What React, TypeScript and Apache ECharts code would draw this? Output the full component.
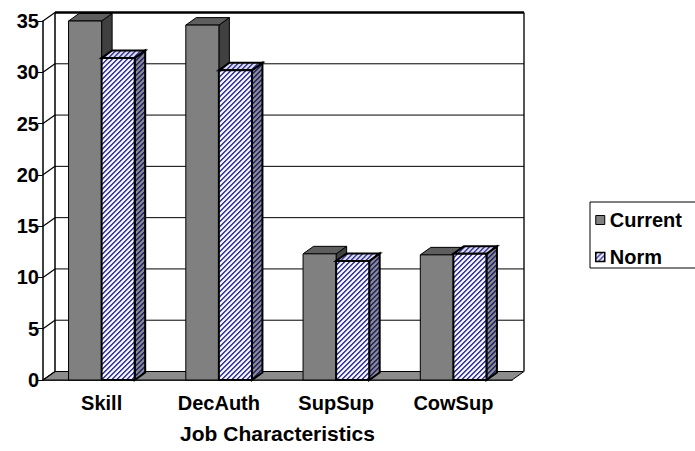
import React, { useEffect, useRef } from "react";
import * as echarts from "echarts";

// Job characteristic scores: current level against the norm
const categories = ["Skill", "DecAuth", "SupSup", "CowSup"];
const currentValues = [35.0, 34.6, 12.3, 12.2];
const normValues = [31.4, 30.2, 11.6, 12.3];
const yTicks = [0, 5, 10, 15, 20, 25, 30, 35];

// depth of the box (frame) and of each bar, in pixels
const WALL_DX = 12;
const WALL_DY = -8.5;
const BAR_DX = 10.5;
const BAR_DY = -7.5;
const BAR_FRACTION = 0.282;

const FONT = {
  fontFamily: "'Liberation Sans', Arial, sans-serif",
  fontWeight: "bold" as const,
  fontSize: 20,
  color: "#000",
};

type RGB = [number, number, number];

// Diagonal "/" hatch tile used for the Norm bars
function makeHatch(stripe: RGB, ground: RGB): HTMLCanvasElement {
  const size = 5;
  const weights = [1, 0.85, 0.15, 0, 0.15];
  const c = document.createElement("canvas");
  c.width = size;
  c.height = size;
  const ctx = c.getContext("2d")!;
  const img = ctx.createImageData(size, size);
  for (let y = 0; y < size; y++) {
    for (let x = 0; x < size; x++) {
      const t = weights[(x + y) % size];
      const i = (y * size + x) * 4;
      for (let k = 0; k < 3; k++) {
        img.data[i + k] = Math.round(stripe[k] * t + ground[k] * (1 - t));
      }
      img.data[i + 3] = 255;
    }
  }
  ctx.putImageData(img, 0, 0);
  return c;
}

export default function App() {
  const ref = useRef<HTMLDivElement>(null);

  useEffect(() => {
    if (!ref.current) return;
    const chart = echarts.init(ref.current, undefined, { renderer: "svg" });

    const hatchFront = { image: makeHatch([51, 51, 153], [255, 255, 255]), repeat: "repeat" as const };
    const hatchTop = { image: makeHatch([60, 60, 155], [225, 225, 235]), repeat: "repeat" as const };
    const hatchSide = { image: makeHatch([35, 35, 100], [140, 140, 150]), repeat: "repeat" as const };

    const makeBar = (which: "current" | "norm") => (params: any, api: any) => {
      const idx = api.value(0);
      const v = api.value(1);
      const top = api.coord([idx, v]);
      const base = api.coord([idx, 0]);
      const band = api.size([1, 0])[0];
      const w = band * BAR_FRACTION;
      const x0 = which === "current" ? top[0] - w : top[0];
      const yT = top[1];
      const yB = base[1];
      const isNorm = which === "norm";
      const lw = isNorm ? 2 : 1;
      const front = isNorm ? hatchFront : "#808080";
      const topFill = isNorm ? hatchTop : "#5e5e5e";
      const sideFill = isNorm ? hatchSide : "#404040";
      return {
        type: "group",
        children: [
          {
            type: "polygon",
            shape: {
              points: [
                [x0 + w, yT],
                [x0 + w + BAR_DX, yT + BAR_DY],
                [x0 + w + BAR_DX, yB + BAR_DY],
                [x0 + w, yB],
              ],
            },
            style: { fill: sideFill, stroke: "#000", lineWidth: lw },
          },
          {
            type: "polygon",
            shape: {
              points: [
                [x0, yT],
                [x0 + w, yT],
                [x0 + w + BAR_DX, yT + BAR_DY],
                [x0 + BAR_DX, yT + BAR_DY],
              ],
            },
            style: { fill: topFill, stroke: "#000", lineWidth: lw },
          },
          {
            type: "rect",
            shape: { x: x0, y: yT, width: w, height: yB - yT },
            style: { fill: front, stroke: "#000", lineWidth: lw },
          },
        ],
      };
    };

    const option: any = {
      animation: false,
      backgroundColor: "#fff",
      grid: { left: 43, right: 183, top: 21, bottom: 71 },
      xAxis: {
        type: "category",
        data: categories,
        boundaryGap: true,
        axisLine: { lineStyle: { color: "#000", width: 1.5 } },
        axisTick: { length: 7, lineStyle: { color: "#000", width: 1 } },
        axisLabel: { ...FONT, margin: 13 },
        name: "Job Characteristics",
        nameLocation: "middle",
        nameGap: 43,
        nameTextStyle: { ...FONT, fontSize: 21 },
      },
      yAxis: {
        type: "value",
        min: 0,
        max: 35,
        interval: 5,
        axisLine: { show: true, lineStyle: { color: "#000", width: 1.5 } },
        axisTick: { show: true, length: 5, lineStyle: { color: "#000", width: 1 } },
        axisLabel: { ...FONT, margin: 4 },
        splitLine: { show: false },
      },
      legend: {
        orient: "vertical",
        left: 590,
        top: 202,
        padding: [8, 14, 1, 5],
        itemWidth: 9,
        itemHeight: 9,
        itemGap: 17,
        borderColor: "#000",
        borderWidth: 1,
        textStyle: { ...FONT, lineHeight: 20 },
        data: [
          { name: "Current", icon: "rect", itemStyle: { color: "#808080", borderColor: "#000", borderWidth: 1 } },
          { name: "Norm", icon: "rect", itemStyle: { color: hatchFront, borderColor: "#000", borderWidth: 1.5 } },
        ],
      },
      series: [
        {
          // back wall and floor of the box
          name: "wall",
          type: "custom",
          data: [0],
          silent: true,
          renderItem: (params: any) => {
            const cs = params.coordSys;
            const bx = cs.x + WALL_DX;
            const by = cs.y + WALL_DY;
            const bottom = cs.y + cs.height;
            return {
              type: "group",
              children: [
                {
                  type: "rect",
                  shape: { x: bx, y: by, width: cs.width, height: cs.height },
                  style: { fill: "#fff", stroke: null },
                },
                {
                  type: "polygon",
                  shape: {
                    points: [
                      [cs.x, bottom],
                      [cs.x + cs.width, bottom],
                      [cs.x + cs.width + WALL_DX, bottom + WALL_DY],
                      [bx, bottom + WALL_DY],
                    ],
                  },
                  style: { fill: "#8c8c8c", stroke: "#000", lineWidth: 1 },
                },
                {
                  type: "line",
                  shape: { x1: bx, y1: by, x2: bx, y2: bottom + WALL_DY },
                  style: { stroke: "#000", lineWidth: 1.5 },
                },
                {
                  type: "line",
                  shape: { x1: bx + cs.width, y1: by, x2: bx + cs.width, y2: bottom + WALL_DY },
                  style: { stroke: "#555", lineWidth: 2 },
                },
                {
                  type: "line",
                  shape: { x1: bx, y1: by, x2: bx + cs.width, y2: by },
                  style: { stroke: "#000", lineWidth: 2.5 },
                },
              ],
            };
          },
        },
        {
          // side-wall diagonals and back-wall gridlines at every tick
          name: "gridlines",
          type: "custom",
          data: yTicks.map((t) => [0, t]),
          silent: true,
          renderItem: (params: any, api: any) => {
            const cs = params.coordSys;
            const y = api.coord([0, api.value(1)])[1];
            const children: any[] = [
              {
                type: "line",
                shape: { x1: cs.x, y1: y, x2: cs.x + WALL_DX, y2: y + WALL_DY },
                style: { stroke: "#000", lineWidth: 1.2 },
              },
            ];
            if (api.value(1) > 0 && api.value(1) < 35) {
              children.push({
                type: "line",
                shape: { x1: cs.x + WALL_DX, y1: y + WALL_DY, x2: cs.x + WALL_DX + cs.width, y2: y + WALL_DY },
                style: { stroke: "#000", lineWidth: 1 },
              });
            }
            return { type: "group", children };
          },
        },
        {
          name: "Current",
          type: "custom",
          itemStyle: { color: "#808080" },
          data: categories.map((_, i) => [i, currentValues[i]]),
          renderItem: makeBar("current"),
        },
        {
          name: "Norm",
          type: "custom",
          itemStyle: { color: hatchFront },
          data: categories.map((_, i) => [i, normValues[i]]),
          renderItem: makeBar("norm"),
        },
      ],
    };

    chart.setOption(option);
    return () => chart.dispose();
  }, []);

  return (
    <div
      ref={ref}
      style={{ position: "fixed", left: 0, top: 0, width: 695, height: 451, background: "#fff" }}
    />
  );
}
